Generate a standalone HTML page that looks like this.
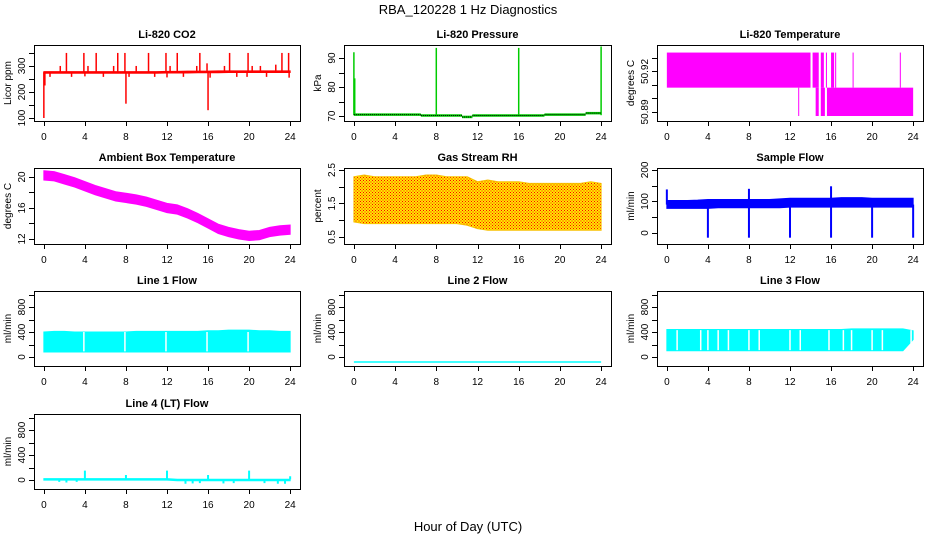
<!DOCTYPE html>
<html><head><meta charset="utf-8"><style>
body{margin:0;background:#fff}
svg{display:block;font-family:"Liberation Sans",sans-serif}
</style></head><body>
<svg id="c" width="936" height="540" viewBox="0 0 936 540">
<defs>
<pattern id="rhpat" width="3" height="3" patternUnits="userSpaceOnUse"><rect width="3" height="3" fill="#ffe800"/><rect x="0" y="0" width="1" height="1" fill="#f00"/><rect x="1.5" y="1.5" width="1" height="1" fill="#f00"/></pattern>
</defs>
<text x="468" y="14" text-anchor="middle" font-size="13">RBA_120228  1 Hz Diagnostics</text>
<text x="468" y="531" text-anchor="middle" font-size="13">Hour of Day (UTC)</text>
</svg>
<script>
// shared hours
const hours=[0,1,2,3,4,5,6,7,8,9,10,11,12,13,14,15,16,17,18,19,20,21,22,23,24];
const xTicks=[0,4,8,12,16,20,24];
// CO2
const co2Lo=[272,272,272,272,272,272,272,272,272,272,272,272,273,273,273,274,274,274,275,275,275,275,275,275,275];
const co2Hi=[278,278,278,278,278,278,278,278,278,278,278,278,279,279,280,280,280,281,281,281,281,281,281,281,281];
const co2SpikeH=[2.2,3.9,5.1,7.2,7.9,10.2,11.9,13.0,15.2,15.9,18.1,19.9,21.1,23.2,23.85,1.6,4.3,6.8,9.0,12.3,14.9,17.6,20.3,22.6,0.0,8.0,16.0,0.1,0.6,2.7,4.0,5.8,8.3,10.8,12.0,13.6,16.2,18.8,19.8,21.7,23.9];
const co2SpikeV=[350,350,350,350,350,350,350,350,350,310,350,350,300,350,350,300,300,300,300,300,300,300,300,305,100,155,130,225,258,258,260,258,258,258,256,258,255,258,258,258,255];
// Pressure
const presStart=[0,6.5,10.5,11.5,18.5,22.5];
const presEnd=[6.5,10.5,11.5,18.5,22.5,24];
const presVal=[70.5,70.2,69.7,70.2,70.5,71.0];
const presSpikeH=[0,0.08,8,16,24];
const presSpikeV=[92,83,93.5,93.5,94];
// Li-820 temperature segments
const tempStart=[0,14.2,15.0,15.5,16.0,16.4,18.1,22.7,12.8,14.5,15.0,15.6];
const tempEnd=[14.0,14.8,15.3,15.6,16.3,16.5,18.15,22.8,12.85,14.8,15.4,24.0];
const tempLo=[50.908,50.908,50.908,50.908,50.908,50.908,50.908,50.908,50.887,50.887,50.887,50.887];
const tempHi=[50.934,50.934,50.934,50.934,50.934,50.934,50.934,50.934,50.908,50.908,50.908,50.908];
// Ambient box temperature
const ambMid=[20.2,20.1,19.7,19.3,18.8,18.3,17.9,17.5,17.3,17.1,16.8,16.4,16.0,15.8,15.3,14.7,14.0,13.3,12.9,12.6,12.4,12.5,12.9,13.1,13.2];
const ambHalf=[0.6,0.6,0.6,0.6,0.6,0.6,0.6,0.6,0.6,0.6,0.6,0.6,0.6,0.6,0.6,0.6,0.6,0.6,0.6,0.6,0.6,0.6,0.6,0.6,0.6];
// RH
const rhLo=[0.95,0.9,0.9,0.9,0.9,0.9,0.9,0.9,0.9,0.9,0.9,0.85,0.75,0.7,0.7,0.7,0.7,0.7,0.7,0.7,0.7,0.7,0.7,0.7,0.7];
const rhHi=[2.3,2.35,2.3,2.3,2.3,2.3,2.3,2.35,2.35,2.3,2.3,2.3,2.15,2.2,2.15,2.15,2.15,2.1,2.1,2.1,2.1,2.1,2.1,2.15,2.1];
// Sample flow
const sfLo=[78,78,78,78,78,80,80,80,80,80,80,80,82,82,82,82,82,82,82,82,82,82,82,82,82];
const sfHi=[103,103,103,104,106,106,106,106,106,106,106,108,110,110,110,110,110,112,112,112,110,110,110,110,110];
const sfSpikeH=[4,8,12,16,20,24,0,8.0,16.0];
const sfSpikeV=[-15,-15,-15,-15,-15,-15,138,140,148];
// Line flows
const l1Lo=[80,80,80,80,80,80,80,80,80,80,80,80,80,80,80,80,80,80,80,80,80,80,80,80,80];
const l1Hi=[400,410,410,400,400,400,400,400,400,410,410,410,410,410,410,410,420,420,430,430,430,420,420,410,410];
const l1Gaps=[3.9,7.9,11.9,15.9,19.9];
const l2Val=[-80,-80,-80,-80,-80,-80,-80,-80,-80,-80,-80,-80,-80,-80,-80,-80,-80,-80,-80,-80,-80,-80,-80,-80,-80];
const l3Lo=[100,100,100,100,100,100,100,100,100,100,100,100,100,100,100,100,100,100,100,100,100,100,100,100,280];
const l3Hi=[440,440,440,440,440,440,440,440,440,440,440,440,440,440,440,440,440,440,450,450,450,450,450,450,420];
const l3Gaps=[1.0,3.3,4.0,5.0,6.0,8.0,9.0,12.0,13.0,15.8,17.2,18.0,20.0,21.0,23.8];
const l4Base=[10,10,10,10,10,10,10,10,10,10,10,10,10,0,0,0,0,0,0,0,0,0,0,0,0];
const l4SpikeH=[4,8,12,16,20,24,1.5,2.2,3.2,13.8,14.5,15.2,17.5,18.5,21.5,22.8,23.5];
const l4SpikeV=[150,80,150,80,150,60,-30,-40,-30,-60,-55,-50,-55,-50,-50,-60,-60];

const NS='http://www.w3.org/2000/svg';
const svg=document.getElementById('c');
const cols=[[34,300],[344,611],[657,923]];
const rows=[[45,121],[168,244],[291,366],[414,489]];
function mk(tag,attrs,parent){const e=document.createElementNS(NS,tag);for(const k in attrs)e.setAttribute(k,attrs[k]);(parent||svg).appendChild(e);return e;}
function panel(c,r,title,ylab,lo,hi,yt,ylabels,name){
  const [L,R]=cols[c],[T,B]=rows[r];const W=R-L,pad=W*0.04/1.08;
  const g=mk('g',{});
  
  
  const x=h=>L+pad+h/24*(W-2*pad);
  const y=v=>B-(v-lo)/(hi-lo)*(B-T);
  const t=mk('text',{x:(L+R)/2,y:T-7,'text-anchor':'middle','font-size':11,'font-weight':'bold'},g);t.textContent=title;
  
  
  const clip=mk('g',{},g);
  const ax=mk('g',{stroke:'#000','stroke-width':1,fill:'none'},g);
  mk('rect',{x:L+.5,y:T+.5,width:W,height:B-T},ax);
  mk('line',{x1:x(0),x2:x(24),y1:B+.5,y2:B+.5},ax);
  xTicks.forEach(h=>{mk('line',{x1:Math.round(x(h))+.5,x2:Math.round(x(h))+.5,y1:B,y2:B+5},ax);
    const tl=mk('text',{x:x(h),y:B+19,'text-anchor':'middle','font-size':10,fill:'#000',stroke:'none'},g);tl.textContent=h;
    
    });
  mk('line',{x1:L+.5,x2:L+.5,y1:y(yt[0]),y2:y(yt[yt.length-1])},ax);
  yt.forEach((v,i)=>{const yy=Math.round(y(v))+.5;mk('line',{x1:L-5,x2:L,y1:yy,y2:yy},ax);
    if(ylabels[i]!==''){const tl=mk('text',{x:0,y:0,'text-anchor':'middle','font-size':10,transform:`translate(${L-9},${y(v)}) rotate(-90)`},g);tl.textContent=ylabels[i];
    
    }});
  const yl=mk('text',{x:0,y:0,'text-anchor':'middle','font-size':10,transform:`translate(${L-23},${(T+B)/2}) rotate(-90)`},g);yl.textContent=ylab;
  
  
  return {x,y,g:clip};
}
function band(p,lo,hi,fill,name){
  let d='M'+hours.map((h,i)=>p.x(h)+','+p.y(hi[i])).join('L')+'L'+hours.slice().reverse().map((h,j)=>p.x(h)+','+p.y(lo[hours.length-1-j])).join('L')+'Z';
  const e=mk('path',{d,fill,stroke:fill==='url(#rhpat)'?'#f8c000':fill,'stroke-width':1},p.g);
  
  
}
function spikes(p,hs,vs,base,color,w,name){
  hs.forEach((h,i)=>{const e=mk('line',{x1:p.x(h),x2:p.x(h),y1:p.y(base),y2:p.y(vs[i]),stroke:color,'stroke-width':w},p.g);
  
  });
}
function gaps(p,hs,lo,hi){hs.forEach(h=>{const e=mk('line',{x1:p.x(h),x2:p.x(h),y1:p.y(lo),y2:p.y(hi),stroke:'#fff','stroke-width':1.5},p.g);
  
  });}

// CO2
let p=panel(0,0,'Li-820 CO2','Licor ppm',88.5,380.5,[100,150,200,250,300,350],['100','','200','','300',''],'co2');
band(p,co2Lo,co2Hi,'#f00','co2-series');
spikes(p,co2SpikeH,co2SpikeV,276,'#f00',1.5,'co2-spike');
// Pressure
p=panel(1,0,'Li-820 Pressure','kPa',68.3,94.5,[70,75,80,85,90],['70','','80','','90'],'pressure');
presStart.forEach((s,i)=>{const e=mk('line',{x1:p.x(s),x2:p.x(presEnd[i]),y1:p.y(presVal[i]),y2:p.y(presVal[i]),stroke:'#0c0','stroke-width':2.5},p.g);
  
  });
spikes(p,presSpikeH,presSpikeV,70.3,'#0c0',1.5,'pressure-spike');
presStart.forEach((s,i)=>{const e=mk('line',{x1:p.x(s),x2:p.x(presEnd[i]),y1:p.y(presVal[i]),y2:p.y(presVal[i]),stroke:'#000','stroke-width':1,'stroke-dasharray':'1,1'},p.g);
  
  });
// Temperature
p=panel(2,0,'Li-820 Temperature','degrees C',50.8833,50.9396,[50.89,50.90,50.91,50.92,50.93],['50.89','','','50.92',''],'li820-temp');
tempStart.forEach((s,i)=>{const e=mk('rect',{x:p.x(s),y:p.y(tempHi[i]),width:Math.max(1,p.x(tempEnd[i])-p.x(s)),height:p.y(tempLo[i])-p.y(tempHi[i]),fill:'#f0f'},p.g);
  
  });
// Ambient
p=panel(0,1,'Ambient Box Temperature','degrees C',11.35,21.16,[12,14,16,18,20],['12','','16','','20'],'ambient');
band(p,ambMid.map((m,i)=>m-ambHalf[i]),ambMid.map((m,i)=>m+ambHalf[i]),'#f0f','ambient-series');
// RH
p=panel(1,1,'Gas Stream RH','percent',0.29,2.56,[0.5,1.0,1.5,2.0,2.5],['0.5','','1.5','','2.5'],'rh');
band(p,rhLo,rhHi,'url(#rhpat)','rh-series');
// Sample flow
p=panel(2,1,'Sample Flow','ml/min',-35,206,[0,50,100,150,200],['0','','100','','200'],'sample-flow');
band(p,sfLo,sfHi,'#00f','sample-flow-series');
spikes(p,sfSpikeH,sfSpikeV,90,'#00f',2,'sample-flow-spike');
// Line 1
p=panel(0,2,'Line 1 Flow','ml/min',-144,1056,[0,200,400,600,800,1000],['0','','400','','800',''],'line1');
band(p,l1Lo,l1Hi,'#0ff','line1-series');gaps(p,l1Gaps,l1Lo[0]+10,400);
// Line 2
p=panel(1,2,'Line 2 Flow','ml/min',-144,1056,[0,200,400,600,800,1000],['0','','400','','800',''],'line2');
{const e=mk('polyline',{points:hours.map((h,i)=>p.x(h)+','+p.y(l2Val[i])).join(' '),fill:'none',stroke:'#0ff','stroke-width':1.5},p.g);

}
// Line 3
p=panel(2,2,'Line 3 Flow','ml/min',-144,1056,[0,200,400,600,800,1000],['0','','400','','800',''],'line3');
band(p,l3Lo,l3Hi,'#0ff','line3-series');gaps(p,l3Gaps,l3Lo[0]+10,430);
// Line 4
p=panel(0,3,'Line 4 (LT) Flow','ml/min',-144,1056,[0,200,400,600,800,1000],['0','','400','','800',''],'line4');
band(p,l4Base.map(v=>v-12),l4Base.map(v=>v+12),'#0ff','line4-series');
spikes(p,l4SpikeH,l4SpikeV,10,'#0ff',2,'line4-spike');
</script>
</body></html>
